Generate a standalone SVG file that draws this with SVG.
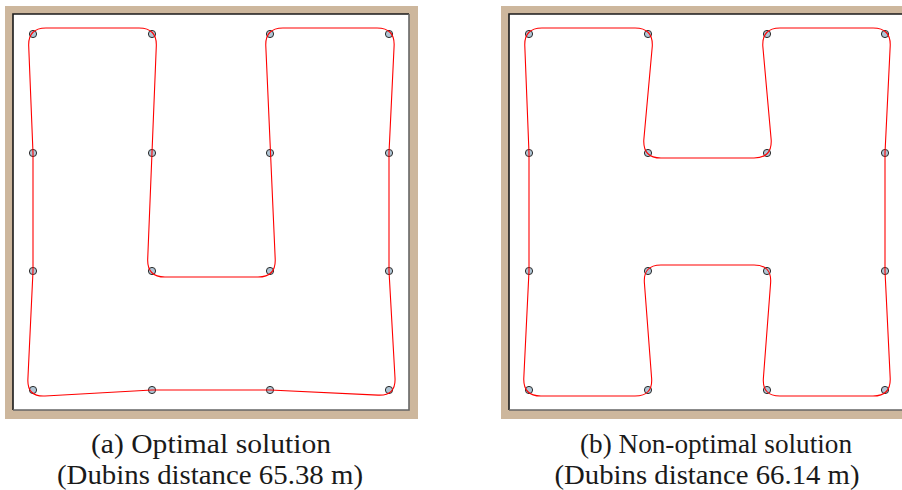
<svg xmlns="http://www.w3.org/2000/svg" width="902" height="490" viewBox="0 0 902 490">
<style>
.frame{fill:#cdb79d}
.field{fill:#ffffff}
.edgeTL{fill:none;stroke:#1a1a1a;stroke-width:1.6}
.edgeBR{fill:none;stroke:#666666;stroke-width:1.6}
.node{fill:#afc6d6;stroke:#2a2a2a;stroke-width:1}
.tour{fill:none;stroke:#ff0000;stroke-width:1.1;stroke-linejoin:round}
.cap{font-family:"Liberation Serif","Times New Roman",serif;font-size:27px;fill:#1a1a1a;text-anchor:middle}
</style>
<defs>
<circle id="pt" r="3.6"/>
</defs>

<g id="panel-a">
  <rect class="frame" x="5" y="6" width="413" height="413"/>
  <rect class="field" x="13" y="14" width="396" height="396"/>
  <polyline class="edgeTL" points="13,410 13,14 409,14"/>
  <polyline class="edgeBR" points="409,14 409,410 13,410"/>
</g>
<g id="panel-b">
  <rect class="frame" x="501" y="6" width="413" height="413"/>
  <rect class="field" x="509" y="14" width="396" height="396"/>
  <polyline class="edgeTL" points="509,410 509,14 905,14"/>
  <polyline class="edgeBR" points="905,14 905,410 509,410"/>
</g>

<g id="nodes-a">
  <g id="a-n00"><use href="#pt" class="node" x="33" y="34"/></g>
  <g id="a-n10"><use href="#pt" class="node" x="152" y="34"/></g>
  <g id="a-n20"><use href="#pt" class="node" x="270" y="34"/></g>
  <g id="a-n30"><use href="#pt" class="node" x="389" y="34"/></g>
  <g id="a-n01"><use href="#pt" class="node" x="33" y="153"/></g>
  <g id="a-n11"><use href="#pt" class="node" x="152" y="153"/></g>
  <g id="a-n21"><use href="#pt" class="node" x="270" y="153"/></g>
  <g id="a-n31"><use href="#pt" class="node" x="389" y="153"/></g>
  <g id="a-n02"><use href="#pt" class="node" x="33" y="271"/></g>
  <g id="a-n12"><use href="#pt" class="node" x="152" y="271"/></g>
  <g id="a-n22"><use href="#pt" class="node" x="270" y="271"/></g>
  <g id="a-n32"><use href="#pt" class="node" x="389" y="271"/></g>
  <g id="a-n03"><use href="#pt" class="node" x="33" y="390"/></g>
  <g id="a-n13"><use href="#pt" class="node" x="152" y="390"/></g>
  <g id="a-n23"><use href="#pt" class="node" x="270" y="390"/></g>
  <g id="a-n33"><use href="#pt" class="node" x="389" y="390"/></g>
</g>
<g id="nodes-b">
  <g id="b-n00"><use href="#pt" class="node" x="529" y="34"/></g>
  <g id="b-n10"><use href="#pt" class="node" x="648" y="34"/></g>
  <g id="b-n20"><use href="#pt" class="node" x="767" y="34"/></g>
  <g id="b-n30"><use href="#pt" class="node" x="885" y="34"/></g>
  <g id="b-n01"><use href="#pt" class="node" x="529" y="153"/></g>
  <g id="b-n11"><use href="#pt" class="node" x="648" y="153"/></g>
  <g id="b-n21"><use href="#pt" class="node" x="767" y="153"/></g>
  <g id="b-n31"><use href="#pt" class="node" x="885" y="153"/></g>
  <g id="b-n02"><use href="#pt" class="node" x="529" y="271"/></g>
  <g id="b-n12"><use href="#pt" class="node" x="648" y="271"/></g>
  <g id="b-n22"><use href="#pt" class="node" x="767" y="271"/></g>
  <g id="b-n32"><use href="#pt" class="node" x="885" y="271"/></g>
  <g id="b-n03"><use href="#pt" class="node" x="529" y="390"/></g>
  <g id="b-n13"><use href="#pt" class="node" x="648" y="390"/></g>
  <g id="b-n23"><use href="#pt" class="node" x="767" y="390"/></g>
  <g id="b-n33"><use href="#pt" class="node" x="885" y="390"/></g>
</g>

<g id="connectors">
  <path id="tour-a" class="tour" d="M 46,28 L 139,28 Q 157,28 156.3,46 L 147.7,259 Q 147,277 165,277 L 258,277 Q 276,277 275.2,259 L 265.8,46 Q 265,28 283,28 L 377,28 Q 395,28 394.1,46 L 389,153 L 389,271 L 395,378 Q 396,396 378,395.1 L 270,390 L 152,390 L 45,396 Q 27,397 27.9,379 L 33,271 L 33,153 L 28.7,46 Q 28,28 46,28 Z"/>
  <path id="tour-b" class="tour" d="M 542,28 L 635,28 Q 653,28 652.3,46 L 643.8,140 Q 643,158 661,158 L 754,158 Q 772,158 771.2,140 L 762.8,46 Q 762,28 780,28 L 873,28 Q 891,28 890.2,46 L 885,153 L 885,271 L 890.2,378 Q 891,396 873,396 L 780,396 Q 762,396 763.4,378 L 770.6,283 Q 772,265 754,265 L 661,265 Q 643,265 644.4,283 L 651.6,378 Q 653,396 635,396 L 541,396 Q 523,396 523.8,378 L 529,271 L 529,153 L 524.8,46 Q 524,28 542,28 Z"/>
</g>

<g id="caption-a">
  <text class="cap" x="211" y="453" textLength="240" lengthAdjust="spacingAndGlyphs">(a) Optimal solution</text>
  <text class="cap" x="210" y="484" textLength="306" lengthAdjust="spacingAndGlyphs">(Dubins distance 65.38 m)</text>
</g>
<g id="caption-b">
  <text class="cap" x="716" y="453" textLength="272" lengthAdjust="spacingAndGlyphs">(b) Non-optimal solution</text>
  <text class="cap" x="707" y="484" textLength="305" lengthAdjust="spacingAndGlyphs">(Dubins distance 66.14 m)</text>
</g>
</svg>
